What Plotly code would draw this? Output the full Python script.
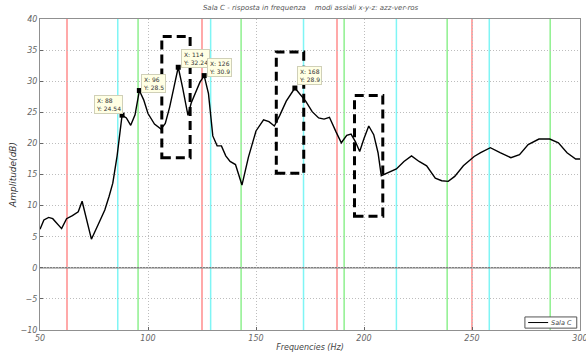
import plotly.graph_objects as go

# Measured frequency response of room "Sala C"
freq = [50, 51.8, 54, 55.9, 60, 62.3, 65, 67.7, 69.5, 73.8, 77, 80, 82, 83.7, 85.7,
        88, 90, 92, 94, 96, 98, 100, 103, 106, 108, 110, 112, 114, 116, 118.5, 120,
        122, 124, 126, 128, 130, 132, 134, 136, 138, 140.5, 143.5, 146.5, 150, 153.5,
        156, 158.5, 161, 164, 168, 170.5, 173, 176, 179, 181.5, 184, 187, 189.5, 192,
        194, 196, 198, 200, 202.2, 204.5, 206.5, 208, 210, 212.5, 215, 218.5, 222,
        225.5, 229, 233, 236, 239, 242, 246, 249, 251, 254, 258.5, 263, 268, 272, 276,
        281, 286, 290, 294, 298, 300]
amp = [6.2, 7.7, 8.1, 7.9, 6.3, 7.9, 8.4, 9.0, 10.7, 4.6, 7.0, 9.3, 11.5, 13.6, 18.0,
       24.54, 24.1, 22.9, 24.6, 28.5, 27.0, 24.8, 23.1, 22.3, 23.2, 25.8, 29.0, 32.24,
       29.0, 24.5, 26.5, 28.3, 29.8, 30.9, 28.0, 21.2, 19.6, 19.6, 18.0, 17.1, 16.6,
       13.3, 17.8, 22.0, 23.8, 23.5, 22.8, 24.5, 26.8, 28.9, 27.8, 26.8, 25.1, 24.1,
       23.9, 24.2, 21.9, 20.1, 21.3, 21.5, 20.3, 18.7, 20.8, 22.8, 21.4, 18.5, 14.8,
       15.1, 15.5, 15.9, 17.1, 18.0, 17.1, 16.4, 14.4, 14.0, 13.9, 14.7, 16.4, 17.4,
       17.9, 18.5, 19.3, 18.5, 17.7, 18.2, 19.8, 20.7, 20.7, 20.1, 18.5, 17.5, 17.5]

# Axial room modes (Hz): x = red, y = cyan (azzurro), z = green (verde)
modes_red = [62.5, 125, 187.5, 250]
modes_cyan = [86, 129, 172, 215, 258]
modes_green = [95.4, 143.1, 190.8, 238.5, 286.2]

# Data tips: frequency, amplitude, label offset (px)
tip_x = [88, 96, 114, 126, 168]
tip_y = [24.54, 28.5, 32.24, 30.9, 28.9]
tip_dx = [-28, 2, 3, 3, 2]
tip_dy = [20, 17, 18, 18, 22]

# Highlighted regions (dashed boxes)
box_x0 = [106.4, 159.4, 195.6]
box_x1 = [119.5, 172.1, 208.7]
box_y0 = [17.7, 15.2, 8.3]
box_y1 = [37.2, 34.7, 27.7]

series_name = "Sala C"

FONT = "DejaVu Sans"
GREY = "#666666"

fig = go.Figure()

shapes = []
for xs, col in ((modes_red, "#ff8c8c"), (modes_cyan, "#7ff5f5"), (modes_green, "#8ef08e")):
    for f in xs:
        shapes.append(dict(type="line", xref="x", yref="paper", x0=f, x1=f, y0=0, y1=1,
                           line=dict(color=col, width=1.5), layer="below"))
# zero line
shapes.append(dict(type="line", xref="paper", yref="y", x0=0, x1=1, y0=0, y1=0,
                   line=dict(color="#808080", width=1.5), layer="below"))
for a, b, c, d in zip(box_x0, box_x1, box_y0, box_y1):
    shapes.append(dict(type="rect", xref="x", yref="y", x0=a, x1=b, y0=c, y1=d,
                       line=dict(color="black", width=3, dash="9px,5px"), layer="above"))

# compact legend box in the lower right corner
shapes.append(dict(type="rect", xref="paper", yref="paper", x0=0.898, x1=0.994,
                   y0=0.006, y1=0.042, line=dict(color="#555555", width=1),
                   fillcolor="white", layer="above"))
shapes.append(dict(type="line", xref="paper", yref="paper", x0=0.904, x1=0.941,
                   y0=0.024, y1=0.024, line=dict(color="black", width=1), layer="above"))

fig.add_trace(go.Scatter(x=freq, y=amp, mode="lines", name=series_name,
                         showlegend=False, line=dict(color="black", width=1.4)))
fig.add_trace(go.Scatter(x=tip_x, y=tip_y, mode="markers", showlegend=False,
                         marker=dict(symbol="square", size=5, color="black")))

annotations = []
for x, y, dx, dy in zip(tip_x, tip_y, tip_dx, tip_dy):
    annotations.append(dict(x=x, y=y, xref="x", yref="y", showarrow=False,
                            text=f"X: {x}<br>Y: {y}", align="left",
                            xanchor="left", yanchor="top", xshift=dx, yshift=dy,
                            font=dict(family=FONT, size=6, color="#333333"),
                            bgcolor="#ffffe4", bordercolor="#d0d0b8", borderwidth=1,
                            borderpad=1))
annotations.append(dict(x=0.943, y=0.024, xref="paper", yref="paper", showarrow=False,
                        text=series_name, xanchor="left", yanchor="middle",
                        font=dict(family=FONT, size=6.5, color="#444444", style="italic")))

fig.update_layout(
    width=586, height=353,
    margin=dict(l=40, r=6, t=19, b=23),
    paper_bgcolor="white", plot_bgcolor="white",
    shapes=shapes, annotations=annotations,
    title=dict(text="Sala C - risposta in frequenza    modi assiali x-y-z: azz-ver-ros",
               x=0.53, xanchor="center", y=0.985, yanchor="top",
               font=dict(family=FONT, size=7, color="#555555", style="italic")),
    showlegend=False,
    xaxis=dict(range=[50, 300], tickvals=[50, 100, 150, 200, 250, 300],
               ticks="inside", ticklen=3, tickcolor=GREY, automargin=False,
               ticklabeloverflow="allow",
               showline=True, linecolor="#909090", linewidth=1, mirror=True,
               showgrid=True, gridcolor="#bdbdbd", griddash="1px,2px", gridwidth=1,
               zeroline=False,
               tickfont=dict(family=FONT, size=8, color=GREY, style="italic"),
               title=dict(text="Frequencies (Hz)", standoff=2,
                          font=dict(family=FONT, size=8, color="#444444", style="italic"))),
    yaxis=dict(range=[-10, 40], dtick=5,
               ticks="inside", ticklen=3, tickcolor=GREY, automargin=False,
               ticklabeloverflow="allow",
               showline=True, linecolor="#909090", linewidth=1, mirror=True,
               showgrid=True, gridcolor="#bdbdbd", griddash="1px,2px", gridwidth=1,
               zeroline=False,
               tickfont=dict(family=FONT, size=8, color=GREY, style="italic"),
               title=dict(text="Amplitude(dB)", standoff=2,
                          font=dict(family=FONT, size=9, color="#333333", style="italic"))),
)

fig.write_html("out.html")
